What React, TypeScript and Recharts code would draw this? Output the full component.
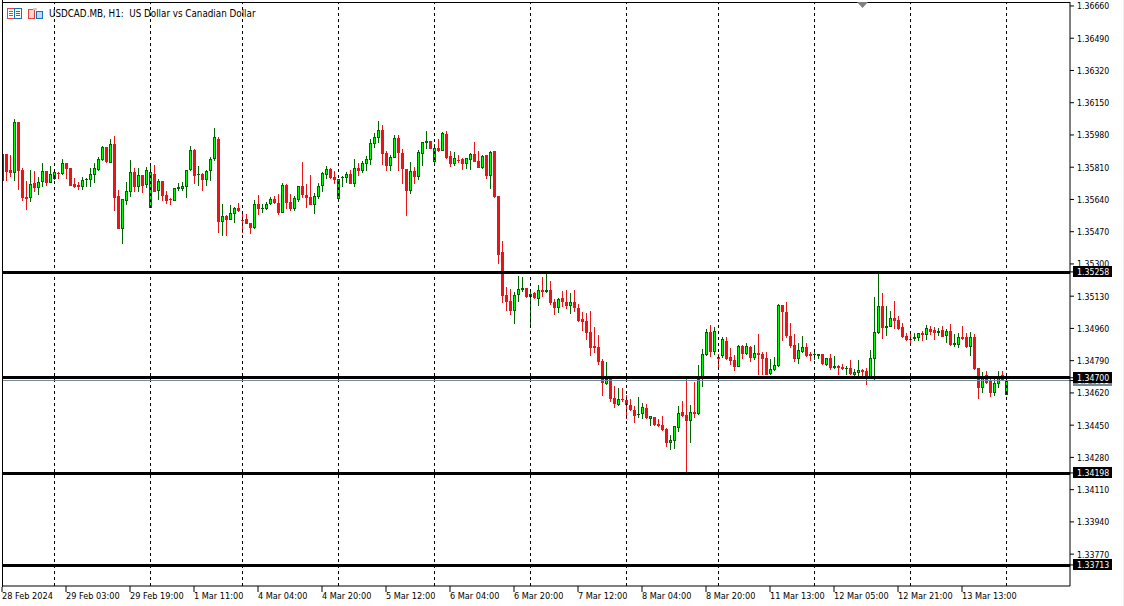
import React from "react";
import { ComposedChart, Bar, XAxis, YAxis, ReferenceLine } from "recharts";

// USDCAD hourly candles, prices in points (1 point = 0.00001)
const opens = [
  135738,135880,135796,135780,136049,135796,135653,135648,135727,135701,135732,135790,135727,135748,135780,135775,135833,135806,135722,135716,135706,135743,135743,135769,135796,135848,135917,135833,135933,135658,135484,135632,135680,135785,135706,135769,135716,135595,135775,135685,135738,135664,135643,135632,135695,135695,135706,135796,135901,135769,
  135775,135743,135790,135854,135959,135521,135553,135532,135564,135595,135532,135537,135516,135490,135616,135590,135590,135616,135643,135622,135569,135716,135627,135590,135637,135711,135664,135653,135611,135653,135711,135769,135801,135759,135643,135753,135753,135775,135722,135806,135790,135827,135848,135933,135964,136007,135885,135817,135859,135964,
  135885,135801,135685,135790,135759,135880,135938,135948,135838,135912,135896,135985,135869,135827,135848,135854,135827,135848,135880,135843,135806,135875,135764,135896,135658,135363,135137,135105,135052,135137,135163,135173,135126,135147,135115,135163,135152,135163,135100,135068,135121,135100,135079,135100,135068,135010,134999,134941,134868,134862,
  134788,134667,134694,134593,134556,134588,134583,134556,134530,134504,134509,134541,134483,134493,134456,134451,134430,134356,134367,134435,134520,134504,134472,134520,134509,134699,134820,134941,134836,134810,134815,134894,134810,134794,134757,134868,134825,134862,134804,134831,134825,134804,134720,134741,134762,135084,135047,134920,134873,134799,
  134836,134862,134825,134820,134815,134825,134767,134804,134752,134762,134757,134746,134752,134715,134725,134741,134736,134704,134799,134936,135079,134962,134968,135015,135005,134968,134920,134904,134904,134910,134936,134926,134957,134952,134936,134952,134920,134947,134873,134873,134915,134915,134862,134915,134752,134646,134715,134688,134620,134667,
  134715,134609,
];
const highs = [
  135880,135880,135875,136064,136049,135806,135738,135796,135790,135759,135833,135790,135817,135796,135785,135854,135833,135806,135753,135732,135759,135753,135806,135833,135864,135922,135917,135959,135975,135690,135643,135732,135848,135806,135806,135769,135811,135827,135822,135748,135738,135685,135648,135701,135727,135732,135796,135922,135906,135817,
  135780,135796,135864,136017,135970,135616,135558,135611,135600,135622,135569,135564,135516,135637,135664,135616,135627,135653,135658,135669,135727,135722,135669,135658,135711,135838,135722,135769,135674,135727,135785,135817,135806,135790,135748,135764,135785,135796,135854,135833,135843,135869,135959,135991,136054,136033,135896,135875,135980,135980,
  135906,135801,135838,135811,135901,135943,136001,135948,135933,135959,135996,136001,135896,135891,135875,135859,135859,135885,135943,135896,135875,135875,135896,135896,135658,135421,135179,135168,135152,135237,135231,135173,135163,135152,135189,135231,135247,135210,135115,135121,135158,135163,135147,135163,135089,135047,135042,135052,134968,134926,
  134799,134783,134694,134657,134646,134646,134609,134588,134551,134599,134567,134562,134498,134493,134483,134498,134435,134398,134446,134551,134578,134699,134556,134678,134767,134852,134957,134978,134968,134825,134915,134915,134857,134820,134873,134873,134883,134868,134873,134931,134836,134836,134799,134810,135089,135084,135100,134989,134931,134883,
  134920,134883,134836,134852,134825,134825,134804,134825,134815,134767,134773,134762,134794,134746,134794,134746,134752,134846,135126,135247,135147,135079,135052,135105,135026,134989,134936,134936,134936,134936,134947,134978,134973,134968,134962,134973,134957,134984,134931,134936,134973,134936,134941,134931,134752,134730,134736,134704,134699,134736,
  134736,134704,
];
const lows = [
  135738,135738,135759,135738,135690,135632,135585,135627,135680,135664,135706,135711,135727,135743,135748,135769,135748,135711,135701,135690,135690,135706,135706,135727,135790,135843,135833,135833,135579,135484,135405,135611,135653,135680,135680,135674,135701,135595,135680,135637,135632,135616,135611,135632,135685,135685,135648,135790,135722,135711,
  135685,135711,135738,135843,135463,135448,135448,135532,135516,135574,135463,135511,135458,135484,135558,135569,135585,135611,135616,135558,135569,135590,135579,135579,135627,135648,135595,135611,135564,135643,135680,135748,135748,135722,135643,135706,135727,135722,135706,135764,135780,135790,135822,135912,135938,135822,135790,135790,135859,135790,
  135722,135553,135669,135722,135743,135817,135906,135906,135827,135891,135896,135854,135811,135817,135833,135796,135801,135796,135838,135806,135801,135748,135695,135648,135300,135094,135052,135031,134984,135100,135152,135121,134973,135115,135079,135126,135147,135084,135031,135042,135073,135063,135036,135047,134994,134947,134899,134815,134831,134767,
  134604,134662,134572,134541,134551,134572,134483,134525,134462,134488,134483,134483,134446,134446,134440,134419,134335,134319,134325,134414,134493,134203,134356,134488,134504,134651,134815,134810,134820,134757,134804,134794,134767,134736,134757,134799,134820,134783,134794,134715,134715,134715,134715,134736,134757,134894,134910,134857,134783,134773,
  134831,134810,134788,134794,134799,134767,134762,134741,134746,134715,134741,134715,134715,134709,134709,134709,134662,134704,134683,134931,134904,134920,134968,134957,134952,134910,134894,134868,134894,134894,134894,134899,134926,134899,134920,134915,134883,134868,134862,134857,134899,134857,134815,134741,134588,134620,134667,134599,134604,134646,
  134683,134609,
];
const closes = [
  135880,135785,135780,136049,135790,135648,135643,135722,135701,135732,135790,135727,135775,135785,135775,135833,135801,135711,135706,135706,135743,135748,135775,135806,135854,135917,135838,135933,135648,135484,135643,135685,135785,135706,135769,135711,135796,135785,135680,135738,135658,135632,135637,135701,135706,135711,135796,135901,135764,135775,
  135743,135790,135854,135970,135521,135553,135532,135569,135595,135579,135527,135511,135490,135616,135590,135595,135616,135643,135622,135569,135716,135622,135590,135648,135711,135664,135648,135611,135658,135711,135780,135801,135753,135743,135748,135759,135775,135722,135806,135790,135833,135854,135938,135970,136007,135880,135817,135864,135964,135885,
  135801,135685,135790,135759,135891,135943,135948,135906,135912,135896,135991,135859,135827,135859,135843,135827,135859,135880,135838,135806,135869,135764,135891,135653,135347,135131,135100,135052,135137,135168,135173,135126,135142,135121,135163,135152,135163,135094,135068,135115,135100,135079,135100,135068,134999,134994,134936,134857,134857,134783,
  134672,134694,134588,134562,134588,134583,134556,134530,134498,134509,134546,134488,134498,134451,134446,134425,134356,134372,134446,134514,134498,134472,134520,134509,134694,134825,134941,134836,134947,134799,134904,134799,134788,134757,134868,134825,134868,134804,134831,134820,134799,134715,134746,134767,135084,135047,134920,134868,134799,134846,
  134862,134815,134815,134825,134825,134773,134804,134752,134762,134752,134746,134752,134720,134730,134741,134730,134704,134804,134941,135079,134962,134973,135015,134999,134957,134915,134899,134899,134915,134936,134926,134962,134941,134936,134947,134915,134947,134873,134883,134915,134904,134862,134915,134746,134646,134704,134672,134620,134672,134699,
  134688,134688,
];

const priceTicks = [1.3666,1.3649,1.3632,1.3615,1.3598,1.3581,1.3564,1.3547,1.353,1.3513,1.3496,1.3479,1.3462,1.3445,1.3428,1.3411,1.3394,1.3377];
const levels = [1.35258, 1.347, 1.34198, 1.33713];
const bidPrice = 1.34685;

const timeLabels = ["28 Feb 2024","29 Feb 03:00","29 Feb 19:00","1 Mar 11:00","4 Mar 04:00","4 Mar 20:00","5 Mar 12:00","6 Mar 04:00","6 Mar 20:00","7 Mar 12:00","8 Mar 04:00","8 Mar 20:00","11 Mar 13:00","12 Mar 05:00","12 Mar 21:00","13 Mar 13:00"];
const labelBars = timeLabels.map((_, i) => i * 16);
const daySeparators = [13, 37, 60, 84, 108, 132, 156, 179, 203, 227, 251];
const emptyBarsRight = 15;

const RED = "#E81416";
const DARK_GREEN = "#006400";
const LIME = "#00FF00";
const FONT = "'DejaVu Sans Condensed', 'Liberation Sans', sans-serif";

const table = opens.map((o, i) => ({
  bar: i,
  open: o / 1e5,
  high: highs[i] / 1e5,
  low: lows[i] / 1e5,
  close: closes[i] / 1e5,
  range: [lows[i] / 1e5, highs[i] / 1e5],
}));
const rows: any[] = [...table];
for (let i = 0; i < emptyBarsRight; i++) rows.push({ bar: table.length + i });

const Candle = (props: any) => {
  const { x, y, height, payload } = props;
  if (!payload || !payload.range || !height) return null;
  const { open, close, high, low } = payload;
  const k = height / (high - low);
  const up = close >= open;
  const top = Math.round(y + (high - Math.max(open, close)) * k);
  const bh = Math.max(1, Math.round(Math.abs(open - close) * k));
  const wickTop = Math.round(y);
  const wickH = Math.max(1, Math.round(height));
  const edge = up ? DARK_GREEN : RED;
  const cx = Math.round(x);
  return (
    <g shapeRendering="crispEdges">
      <rect x={cx + 2} y={wickTop} width={1} height={wickH} fill={edge} />
      <rect x={cx + 1} y={top} width={3} height={bh} fill={edge} />
      {up && bh > 2 && <rect x={cx + 2} y={top + 1} width={1} height={bh - 2} fill={LIME} />}
    </g>
  );
};

const PriceTick = (props: any) => {
  const { x, y, payload } = props;
  const v = payload.value;
  const isLevel = levels.includes(v);
  const isBid = v === bidPrice;
  const boxed = isLevel || isBid;
  return (
    <g>
      {boxed && (
        <rect x={x - 3} y={Math.round(y) - 6} width={39} height={11} fill={isBid ? "#778899" : "#000"} shapeRendering="crispEdges" />
      )}
      <text x={x + 1} y={y + 3.5} fontSize={8.7} fontFamily={FONT} fill={boxed ? "#fff" : "#000"}>
        {v.toFixed(5)}
      </text>
    </g>
  );
};

const TimeTick = (props: any) => {
  const { x, y, payload } = props;
  return (
    <text x={x} y={y + 7} fontSize={9.1} fontFamily={FONT} fill="#000" textAnchor="start">
      {timeLabels[labelBars.indexOf(payload.value)]}
    </text>
  );
};

const Header = () => (
  <>
    <svg style={{ position: "absolute", left: 0, top: 0, width: 46, height: 20 }} shapeRendering="crispEdges">
      <rect x={7.5} y={8.5} width={7} height={10} fill="#fff" stroke="#e8403a" />
      <rect x={14.5} y={8.5} width={7} height={10} fill="#fff" stroke="#1a6fb5" />
      {[11, 13, 15].map((y) => (
        <g key={y}>
          <rect x={9} y={y} width={4} height={1} fill="#e8403a" />
          <rect x={16} y={y} width={4} height={1} fill="#1a6fb5" />
        </g>
      ))}
      <rect x={28.5} y={9.5} width={6} height={9} fill="#fbd5cc" stroke="#e8403a" />
      <rect x={36.5} y={11.5} width={6} height={7} fill="#bcdcf2" stroke="#1a6fb5" />
      <rect x={33} y={8} width={4} height={2} fill="#ccc" />
    </svg>
    <div
      style={{
        position: "absolute",
        left: 49,
        top: 8,
        fontFamily: FONT,
        fontSize: 9.75,
        lineHeight: "12px",
        whiteSpace: "pre",
        color: "#000",
      }}
    >
      {"USDCAD.MB, H1:  US Dollar vs Canadian Dollar"}
    </div>
    <svg style={{ position: "absolute", left: 856, top: 2, width: 13, height: 7 }}>
      <polygon points="1,0 12,0 6.5,6" fill="#808080" />
    </svg>
  </>
);

export default function App() {
  return (
    <div style={{ position: "absolute", left: 0, top: 0, width: 1124, height: 606, background: "#fff", overflow: "hidden" }}>
      <ComposedChart
        width={1124}
        height={606}
        data={rows}
        margin={{ top: 2, right: 0, bottom: 0, left: 0 }}
        barCategoryGap={0}
        barGap={0}
      >
        <XAxis
          dataKey="bar"
          type="category"
          height={20}
          ticks={labelBars}
          interval={0}
          tick={<TimeTick />}
          tickSize={6}
          tickMargin={0}
          padding={{ left: 0, right: 2 }}
          stroke="#000"
        />
        <YAxis
          orientation="right"
          width={54}
          domain={[1.33602, 1.36681]}
          ticks={[...priceTicks, bidPrice, ...levels]}
          interval={0}
          allowDataOverflow
          tick={<PriceTick />}
          tickSize={4}
          tickMargin={2}
          stroke="#000"
        />
        {daySeparators.map((b) => (
          <ReferenceLine key={b} x={b} stroke="#000" strokeDasharray="3 3" shapeRendering="crispEdges" />
        ))}
        <ReferenceLine y={bidPrice} stroke="#778899" shapeRendering="crispEdges" />
        <Bar dataKey="range" isAnimationActive={false} shape={<Candle />} />
        {levels.map((l) => (
          <ReferenceLine
            key={l}
            y={l}
            stroke="#000"
            strokeWidth={3}
            transform={l === 1.347 ? "translate(0,-0.5)" : "translate(0,0.5)"}
            shapeRendering="crispEdges"
          />
        ))}
      </ComposedChart>
      {/* chart frame, left and top edges, and the window edge on the right */}
      <div style={{ position: "absolute", left: 0, top: 0, width: 2, height: 587, background: "#fff", borderRight: "1px solid #000" }} />
      <div style={{ position: "absolute", left: 2, top: 2, width: 1068, height: 1, background: "#000" }} />
      <div style={{ position: "absolute", left: 1123, top: 0, width: 1, height: 606, background: "#f0f0f0" }} />
      <Header />
    </div>
  );
}
